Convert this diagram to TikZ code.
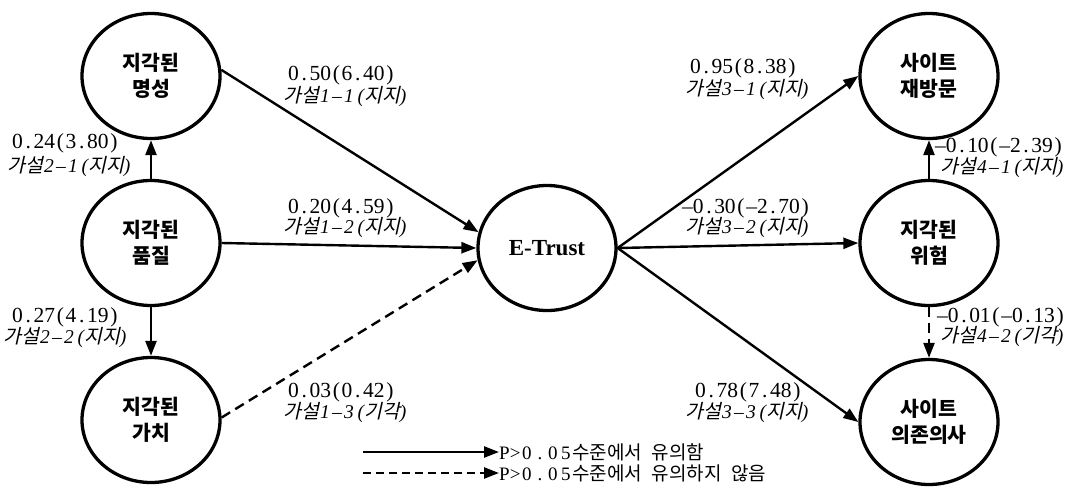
\documentclass[tikz,border=0pt]{standalone}
\usepackage{fontspec}
\setmainfont{Liberation Serif}
\newfontfamily\kr{Noto Sans CJK KR}
\newfontfamily\krit[FakeSlant=0.22]{Noto Sans CJK KR}
\usetikzlibrary{shapes.geometric,arrows.meta}
\def\monoloop#1{\ifx#1\relax\else\makebox[\monow]{#1}\expandafter\monoloop\fi}
\newcommand\mono[2]{\def\monow{#1}\monoloop#2\relax}
\newcommand\numtxt[1]{\mono{10.7pt}{#1}}
\newcommand\hypo[3]{{\krit 가설}{\itshape\mono{12pt}{#1–#2}\makebox[9pt][r]{(}}{\krit #3}{\itshape\makebox[9pt][l]{)}}}
\begin{document}
\begin{tikzpicture}[x=1pt,y=-1pt,
  circ/.style={ellipse, draw, line width=3.3pt, minimum width=138pt, minimum height=125pt,
    inner sep=0pt, align=center, font=\kr\bfseries\fontsize{20.5}{26}\selectfont},
  edge/.style={line width=2.4pt, -{Triangle[length=15pt,width=11pt]}},
  dashedge/.style={dash pattern=on 10pt off 6pt},
  num/.style={anchor=west, inner sep=0pt, font=\fontsize{21.5}{22}\selectfont},
  hyp/.style={anchor=west, inner sep=0pt, font=\fontsize{19.5}{22}\selectfont},
  leg/.style={anchor=west, inner sep=0pt, font=\fontsize{19}{22}\selectfont}]
\useasboundingbox (0,0) rectangle (1088,496);
% nodes
\node[circ] (m) at (151,76) {지각된\\명성};
\node[circ] (q) at (151,243) {지각된\\품질};
\node[circ] (v) at (151,420) {지각된\\가치};
\node[circ, font=\bfseries\fontsize{23}{26}\selectfont] (et) at (547,248) {E-Trust};
\node[circ] (s1) at (929,76) {사이트\\재방문};
\node[circ] (r) at (929,243) {지각된\\위험};
\node[circ] (s3) at (929,422) {사이트\\의존의사};
% edges
\draw[edge] (m.5) -- (et.167);
\draw[edge] (q.east) -- (et.west);
\draw[edge,dashedge] (v.2) -- (et.190);
\draw[edge] (q.north) -- (m.south);
\draw[edge] (q.south) -- (v.north);
\draw[edge] (et.east) -- (s1.west);
\draw[edge] (et.east) -- (r.west);
\draw[edge] (et.east) -- (s3.west);
\draw[edge] (r.north) -- (s1.south);
\draw[edge,dashedge] (r.south) -- (s3.north);
% labels
\node[num] (n11) at (288,75) {\numtxt{0.50(6.40)}};
\node[hyp] (h11) at (283,97) {\hypo{1}{1}{지지}};
\node[num] (n21) at (12,143) {\numtxt{0.24(3.80)}};
\node[hyp] (h21) at (7,167) {\hypo{2}{1}{지지}};
\node[num] (n12) at (288,208) {\numtxt{0.20(4.59)}};
\node[hyp] (h12) at (283,228) {\hypo{1}{2}{지지}};
\node[num] (n22) at (12,317) {\numtxt{0.27(4.19)}};
\node[hyp] (h22) at (3,338) {\hypo{2}{2}{지지}};
\node[num] (n13) at (288,392) {\numtxt{0.03(0.42)}};
\node[hyp] (h13) at (283,413) {\hypo{1}{3}{기각}};
\node[num] (n31) at (690,68) {\numtxt{0.95(8.38)}};
\node[hyp] (h31) at (685,90) {\hypo{3}{1}{지지}};
\node[num] (n41) at (935,147) {\numtxt{–0.10(–2.39)}};
\node[hyp] (h41) at (940,168) {\hypo{4}{1}{지지}};
\node[num] (n32) at (682,208) {\numtxt{–0.30(–2.70)}};
\node[hyp] (h32) at (685,228) {\hypo{3}{2}{지지}};
\node[num] (n42) at (937,317) {\numtxt{–0.01(–0.13)}};
\node[hyp] (h42) at (940,337) {\hypo{4}{2}{기각}};
\node[num] (n33) at (695,392) {\numtxt{0.78(7.48)}};
\node[hyp] (h33) at (685,413) {\hypo{3}{3}{지지}};
% legend
\coordinate (l1s) at (363,452);
\coordinate (l2s) at (363,473);
\node[leg] (lg1) at (499,452) {P>\mono{13pt}{0.05}{\kr 수준에서\hspace{0.5em}유의함}};
\node[leg] (lg2) at (499,473) {P>\mono{13pt}{0.05}{\kr 수준에서\hspace{0.5em}유의하지\hspace{0.5em}않음}};
\draw[edge] (l1s) -- (lg1.west);
\draw[edge,dash pattern=on 8pt off 5pt] (l2s) -- (lg2.west);
\end{tikzpicture}
\end{document}
